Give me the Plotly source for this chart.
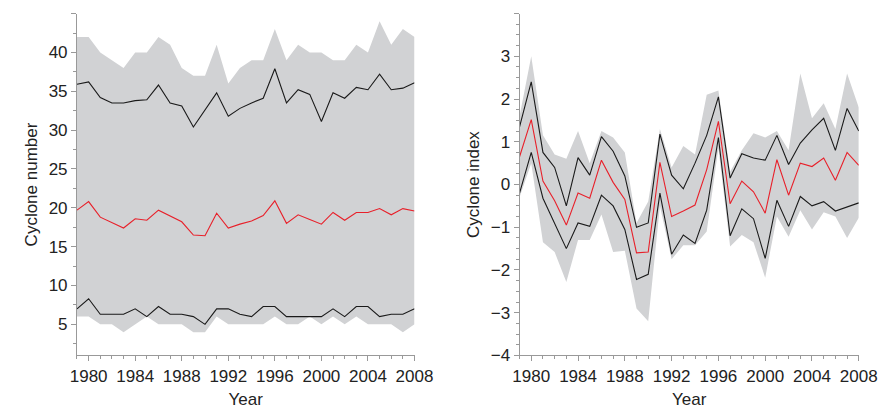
import plotly.graph_objects as go

years = list(range(1979, 2009))

# panel (a) cyclone number
a_max = [42, 42, 40, 39, 38, 40, 40, 42, 41, 38, 37, 37, 41, 36, 38, 39, 39, 43, 39, 41,
         40, 40, 39, 39, 41, 40, 44, 41, 43, 42]
a_hi = [35.9, 36.2, 34.2, 33.5, 33.5, 33.8, 33.9, 35.8, 33.5, 33.1, 30.4, 32.6, 34.8, 31.8, 32.8,
        33.5, 34.1, 37.9, 33.5, 35.2, 34.6, 31.1, 34.8, 34.1, 35.5, 35.2, 37.2, 35.2, 35.4, 36.1]
a_mean = [19.7, 20.8, 18.8, 18.1, 17.4, 18.6, 18.4, 19.7, 18.9, 18.2, 16.5, 16.4, 19.3, 17.4, 17.9,
          18.3, 19.0, 20.9, 18.0, 19.1, 18.5, 17.9, 19.4, 18.4, 19.4, 19.4, 19.9, 19.1, 19.9, 19.6]
a_lo = [7, 8.3, 6.3, 6.3, 6.3, 7, 6, 7.3, 6.3, 6.3, 6, 5, 7, 7, 6.3, 6, 7.3, 7.3, 6, 6,
        6, 6, 7, 6, 7.3, 7.3, 6, 6.3, 6.3, 7]
a_min = [6, 6, 5, 5, 4, 5, 6, 5, 5, 5, 4, 4, 6, 5, 5, 5, 5, 6, 5, 5,
         6, 5, 6, 5, 6, 5, 5, 5, 4, 5]

# panel (b) cyclone index
b_max = [1.6, 3.0, 1.15, 0.7, 0.6, 1.25, 0.5, 1.25, 1.1, 0.75, -0.9, -0.4, 1.3, 0.4, 0.9,
         0.7, 2.1, 2.2, 0.3, 0.8, 1.2, 1.1, 1.25, 0.8, 2.6, 1.55, 1.9, 1.3, 2.6, 1.8]
b_hi = [1.35, 2.4, 0.75, 0.4, -0.5, 0.63, 0.22, 1.12, 0.78, 0.2, -1.0, -0.9, 1.18, 0.22, -0.1,
        0.5, 1.15, 2.05, 0.15, 0.72, 0.62, 0.57, 1.15, 0.47, 0.97, 1.28, 1.55, 0.8, 1.78, 1.25]
b_mean = [0.65, 1.52, 0.08, -0.38, -0.95, -0.2, -0.32, 0.57, 0.05, -0.35, -1.6, -1.58, 0.52, -0.75,
          -0.62, -0.48, 0.35, 1.48, -0.45, 0.08, -0.17, -0.67, 0.58, -0.25, 0.5, 0.42, 0.62, 0.1,
          0.75, 0.45]
b_lo = [-0.2, 0.75, -0.32, -0.9, -1.5, -0.9, -0.98, -0.25, -0.5, -1.05, -2.22, -2.1, -0.2, -1.63,
        -1.18, -1.38, -0.6, 1.1, -1.2, -0.57, -0.8, -1.73, -0.37, -0.98, -0.28, -0.5, -0.4, -0.62,
        -0.53, -0.43]
b_min = [-0.3, 0.5, -1.35, -1.58, -2.28, -1.3, -1.3, -0.7, -1.58, -1.55, -2.9, -3.2, -0.5, -1.75,
         -1.42, -1.42, -1.1, 0.85, -1.45, -1.18, -1.35, -2.18, -0.75, -1.22, -0.6, -1.05, -0.65,
         -0.75, -1.25, -0.78]

GRAY = "#d1d2d4"
fig = go.Figure()

def add_panel(xa, ya, mx, hi, mean, lo, mn):
    fig.add_trace(go.Scatter(x=years, y=mn, mode="lines", line=dict(width=0),
                             xaxis=xa, yaxis=ya, hoverinfo="skip"))
    fig.add_trace(go.Scatter(x=years, y=mx, mode="lines", line=dict(width=0), fill="tonexty",
                             fillcolor=GRAY, xaxis=xa, yaxis=ya, hoverinfo="skip"))
    for s, c in [(hi, "#1a1a1a"), (lo, "#1a1a1a"), (mean, "#e8202a")]:
        fig.add_trace(go.Scatter(x=years, y=s, mode="lines", line=dict(color=c, width=1.1),
                                 xaxis=xa, yaxis=ya))

add_panel("x", "y", a_max, a_hi, a_mean, a_lo, a_min)
add_panel("x2", "y2", b_max, b_hi, b_mean, b_lo, b_min)

font = dict(family="Liberation Sans, Arial", size=17, color="#222")
xcommon = dict(range=[1979, 2008], tickvals=list(range(1980, 2009, 4)), ticks="outside",
               ticklen=5, tickcolor="#999", showline=True, linecolor="#999", showgrid=False,
               zeroline=False, title=dict(text="Year", font=font, standoff=8), tickfont=font,
               minor=dict(dtick=1, ticks="outside", ticklen=3, tickcolor="#999"))
ycommon = dict(ticks="outside", ticklen=5, tickcolor="#999", showline=True, linecolor="#999",
               showgrid=False, zeroline=False, tickfont=font)

fig.update_layout(
    width=887, height=408, margin=dict(l=0, r=0, t=0, b=0),
    plot_bgcolor="white", paper_bgcolor="white", showlegend=False, font=font,
    xaxis=dict(domain=[0.072, 0.464], anchor="y", **xcommon),
    xaxis2=dict(domain=[0.586, 0.98], anchor="y2", **xcommon),
    yaxis=dict(domain=[0.127, 0.986], anchor="x", range=[1, 45], dtick=5,
               title=dict(text="Cyclone number", font=font, standoff=6),
               minor=dict(dtick=2.5, ticks="outside", ticklen=3, tickcolor="#999"), **ycommon),
    yaxis2=dict(domain=[0.127, 0.986], anchor="x2", range=[-4, 4], dtick=1,
                tickformat="d", title=dict(text="Cyclone index", font=font, standoff=6),
                minor=dict(dtick=0.25, ticks="outside", ticklen=3, tickcolor="#999"), **ycommon),
    annotations=[
        dict(text="(a)", x=0, y=1.05, xref="paper", yref="paper", xanchor="left", yanchor="top",
             showarrow=False, font=dict(family=font["family"], size=15, color="#222")),
        dict(text="(b)", x=0.512, y=1.05, xref="paper", yref="paper", xanchor="left",
             yanchor="top", showarrow=False,
             font=dict(family=font["family"], size=15, color="#222")),
    ],
)

fig.write_html("out.html")
